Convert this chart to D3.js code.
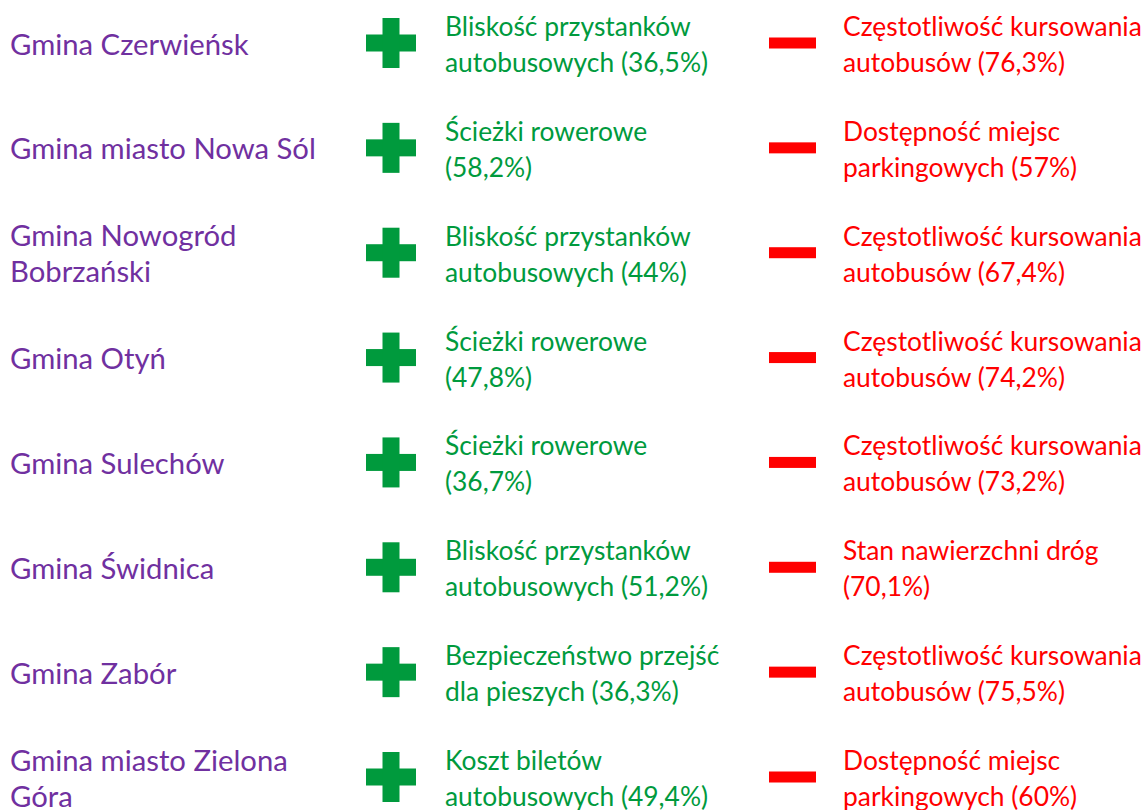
<!DOCTYPE html>
<html>
<head>
<meta charset="utf-8">
<script src="https://cdn.jsdelivr.net/npm/d3@7"></script>
<style>
  body { margin: 0; background: #fff; }
  svg { display: block; }
</style>
</head>
<body>
<div id="chart"></div>
<script>
// gminy (rows), best rated and worst rated aspect with share of answers
var gminas = [
    "Gmina Czerwieńsk",
    "Gmina miasto Nowa Sól",
    "Gmina Nowogród\nBobrzański",
    "Gmina Otyń",
    "Gmina Sulechów",
    "Gmina Świdnica",
    "Gmina Zabór",
    "Gmina miasto Zielona\nGóra"
];
var plusLabels = [
    "Bliskość przystanków\nautobusowych",
    "Ścieżki rowerowe\n",
    "Bliskość przystanków\nautobusowych",
    "Ścieżki rowerowe\n",
    "Ścieżki rowerowe\n",
    "Bliskość przystanków\nautobusowych",
    "Bezpieczeństwo przejść\ndla pieszych",
    "Koszt biletów\nautobusowych"
];
var plusValues = ["36,5%", "58,2%", "44%", "47,8%", "36,7%", "51,2%", "36,3%", "49,4%"];
var minusLabels = [
    "Częstotliwość kursowania\nautobusów",
    "Dostępność miejsc\nparkingowych",
    "Częstotliwość kursowania\nautobusów",
    "Częstotliwość kursowania\nautobusów",
    "Częstotliwość kursowania\nautobusów",
    "Stan nawierzchni dróg\n",
    "Częstotliwość kursowania\nautobusów",
    "Dostępność miejsc\nparkingowych"
];
var minusValues = ["76,3%", "57%", "67,4%", "74,2%", "73,2%", "70,1%", "75,5%", "60%"];

var width = 1148, height = 810;
var purple = "#7030a0", green = "#009a3d", red = "#ff0000";
var font = "Lato, 'Open Sans', sans-serif";
var lineH = 36;

var svg = d3.select("#chart").append("svg")
    .attr("width", width)
    .attr("height", height);

// fit font size so that a known line matches the reference width
function fitSize(str, target) {
    var probe = svg.append("text")
        .attr("font-family", font)
        .attr("font-size", 100)
        .text(str);
    var s = 100 * target / probe.node().getComputedTextLength();
    probe.remove();
    return s;
}
var fontSize = fitSize("Częstotliwość kursowania", 299);
var nameSize = fitSize("Gmina miasto Nowa Sól", 306);

var y = d3.scalePoint()
    .domain(d3.range(gminas.length))
    .range([43, 777]);

var rows = gminas.map(function (g, i) {
    return {
        gmina: g.split("\n"),
        plus: (plusLabels[i] + " (" + plusValues[i] + ")").replace("\n ", "\n").split("\n"),
        minus: (minusLabels[i] + " (" + minusValues[i] + ")").replace("\n ", "\n").split("\n")
    };
});

var row = svg.selectAll(".row")
    .data(rows)
    .enter()
    .append("g")
    .attr("class", "row")
    .attr("transform", function (d, i) { return "translate(0," + y(i) + ")"; });

function addLines(sel, key, x, color, size, dy) {
    sel.append("text")
        .attr("x", x)
        .attr("font-family", font)
        .attr("font-size", size)
        .attr("fill", color)
        .each(function (d) {
            var lines = d[key];
            var n = lines.length;
            d3.select(this).selectAll("tspan")
                .data(lines)
                .enter()
                .append("tspan")
                .attr("x", x)
                .attr("y", function (l, j) { return -(n - 1) * lineH / 2 + j * lineH + dy; })
                .text(function (l) { return l; });
        });
}

addLines(row, "gmina", 10, purple, nameSize, 11.5);
addLines(row, "plus", 445, green, fontSize, 11);
addLines(row, "minus", 843, red, fontSize, 11);

// plus sign
var arm = 17, size = 50;
var plus = row.append("g")
    .attr("transform", "translate(391,0)")
    .attr("fill", green);
plus.append("rect")
    .attr("x", -size / 2).attr("y", -arm / 2)
    .attr("width", size).attr("height", arm);
plus.append("rect")
    .attr("x", -arm / 2).attr("y", -size / 2)
    .attr("width", arm).attr("height", size);

// minus sign
row.append("rect")
    .attr("x", 769)
    .attr("y", -5.5)
    .attr("width", 47)
    .attr("height", 11)
    .attr("fill", red);
</script>
</body>
</html>
